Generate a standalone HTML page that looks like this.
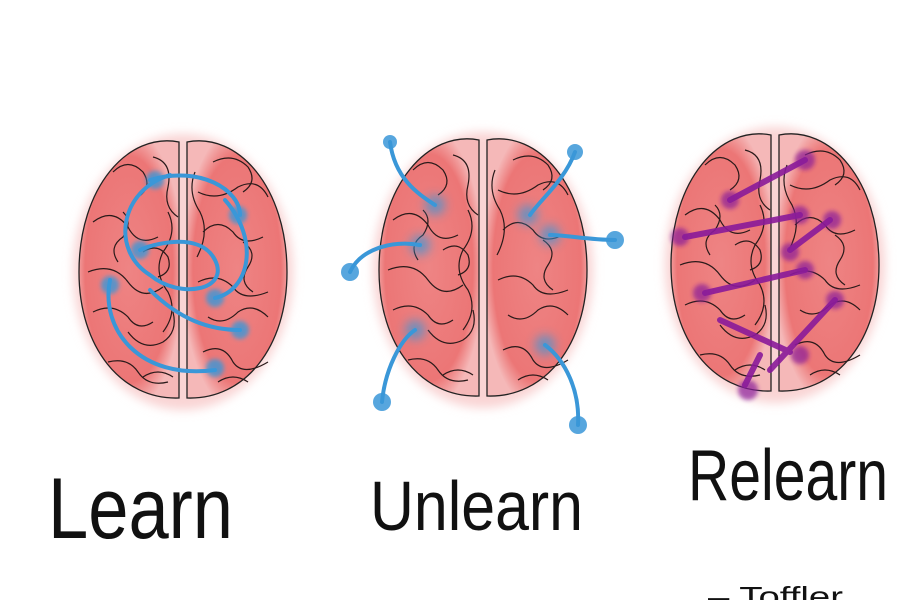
<!DOCTYPE html>
<html><head><meta charset="utf-8"><style>
html,body{margin:0;padding:0;background:#fff;width:900px;height:600px;overflow:hidden}
svg{display:block}
text{font-family:"Liberation Sans",sans-serif;fill:#111}
</style></head><body>
<svg width="900" height="600" viewBox="0 0 900 600">
<defs>
<radialGradient id="g" cx="50%" cy="50%" r="55%">
<stop offset="0" stop-color="#ee8484"/><stop offset="0.8" stop-color="#ec7676"/><stop offset="1" stop-color="#f5b8b8"/>
</radialGradient>
<filter id="b"><feGaussianBlur stdDeviation="5"/></filter>
<filter id="b2"><feGaussianBlur stdDeviation="2"/></filter>
<g id="brain">
<ellipse cx="0" cy="0" rx="110" ry="138" fill="#f9d4d4" filter="url(#b)"/>
<path d="M-4,-130 C-55,-140 -104,-85 -104,0 C-104,75 -62,128 -4,126 Z" fill="url(#g)" stroke="#222" stroke-width="1.3"/>
<path d="M4,-130 C55,-140 104,-85 104,0 C104,75 62,128 4,126 Z" fill="url(#g)" stroke="#222" stroke-width="1.3"/>
<g fill="none" stroke="#2a1a1a" stroke-width="1.2">
<path d="M-70,-100 q15,-15 30,0 q10,15 -5,25"/>
<path d="M-30,-115 q20,5 15,30 q-5,20 10,30"/>
<path d="M-90,-50 q20,-15 35,5 q10,20 30,10"/>
<path d="M-60,-60 q10,10 0,25 q-15,10 -5,25"/>
<path d="M-95,0 q25,-10 40,10 q15,20 35,5"/>
<path d="M-40,-20 q15,-10 25,5 q5,15 -10,20"/>
<path d="M-90,40 q20,-10 35,5 q10,15 25,5"/>
<path d="M-55,60 q15,20 35,10 q15,-10 10,-30"/>
<path d="M-75,90 q20,-5 30,10 q10,15 30,10"/>
<path d="M-40,105 q15,-10 30,0"/>
<path d="M30,-110 q20,-10 35,5 q10,15 -5,25"/>
<path d="M15,-80 q20,10 40,-5 q20,-10 30,10"/>
<path d="M20,-40 q15,-15 30,0 q10,15 30,5"/>
<path d="M60,-30 q15,10 5,25 q-10,15 5,25"/>
<path d="M15,10 q20,-10 35,5 q10,15 35,5"/>
<path d="M25,45 q15,10 30,-5 q15,-10 30,5"/>
<path d="M20,80 q20,-10 30,10 q10,15 35,0"/>
<path d="M35,110 q15,-10 30,0"/>
<path d="M-15,-60 q10,20 -5,40 q-10,20 5,40 q10,20 -5,40"/>
<path d="M12,-100 q-8,20 5,40 q10,20 -3,45"/>
</g>
</g>
</defs>
<use href="#brain" x="183" y="272"/>
<use href="#brain" x="483" y="270"/>
<use href="#brain" x="775" y="265"/>
<g fill="none" stroke="#3a97d8" stroke-width="4" stroke-linecap="round">
<path d="M150,180 C200,165 240,190 240,215"/>
<path d="M170,175 C120,190 110,250 150,275 C180,300 230,290 215,260 C200,230 150,245 140,250"/>
<path d="M110,280 C100,330 140,380 215,370"/>
<path d="M150,290 C180,320 210,330 240,330"/>
<path d="M225,200 C260,240 250,290 215,298"/>
</g>
<g fill="#3a97d8" filter="url(#b2)" opacity="0.8">
<circle cx="155" cy="180" r="9"/><circle cx="238" cy="215" r="9"/><circle cx="140" cy="250" r="9"/><circle cx="215" cy="298" r="9"/><circle cx="240" cy="330" r="9"/><circle cx="215" cy="368" r="9"/><circle cx="110" cy="285" r="9"/>
</g>
<g fill="none" stroke="#3a97d8" stroke-width="4" stroke-linecap="round">
<path d="M390,142 C395,180 420,195 435,205"/>
<path d="M575,152 C565,180 540,200 530,215"/>
<path d="M350,272 C360,250 390,240 420,245"/>
<path d="M615,240 C590,240 565,235 550,235"/>
<path d="M382,402 C385,370 400,340 415,330"/>
<path d="M578,425 C580,390 565,360 545,345"/>
</g>
<g fill="#3a97d8" opacity="0.85">
<circle cx="390" cy="142" r="7"/><circle cx="575" cy="152" r="8"/><circle cx="350" cy="272" r="9"/><circle cx="615" cy="240" r="9"/><circle cx="382" cy="402" r="9"/><circle cx="578" cy="425" r="9"/>
</g>
<g fill="#3a97d8" filter="url(#b)" opacity="0.7">
<circle cx="435" cy="205" r="10"/><circle cx="528" cy="215" r="10"/><circle cx="420" cy="245" r="10"/><circle cx="550" cy="235" r="10"/><circle cx="415" cy="330" r="10"/><circle cx="545" cy="345" r="10"/>
</g>
<g fill="none" stroke="#8a1a9a" stroke-width="6" stroke-linecap="round" opacity="0.9">
<path d="M730,200 L805,160"/>
<path d="M685,237 L800,215"/>
<path d="M790,250 L830,220"/>
<path d="M705,293 L805,270"/>
<path d="M770,370 L835,300"/>
<path d="M720,320 L790,352"/>
<path d="M745,385 L760,355"/>
</g>
<g fill="#8a1a9a" filter="url(#b2)" opacity="0.7">
<circle cx="805" cy="160" r="10"/><circle cx="730" cy="200" r="9"/><circle cx="680" cy="237" r="9"/><circle cx="800" cy="215" r="9"/><circle cx="832" cy="220" r="9"/><circle cx="790" cy="252" r="9"/><circle cx="702" cy="293" r="9"/><circle cx="805" cy="270" r="9"/><circle cx="835" cy="300" r="9"/><circle cx="800" cy="355" r="9"/><circle cx="748" cy="390" r="10"/>
</g>
<text x="48" y="538" font-size="86" textLength="185" lengthAdjust="spacingAndGlyphs">Learn</text>
<text x="370" y="530" font-size="70" textLength="213" lengthAdjust="spacingAndGlyphs">Unlearn</text>
<text x="688" y="500" font-size="72" textLength="200" lengthAdjust="spacingAndGlyphs">Relearn</text>
<text x="708" y="606" font-size="28" textLength="135" lengthAdjust="spacingAndGlyphs">– Toffler</text>
</svg>
</body></html>
